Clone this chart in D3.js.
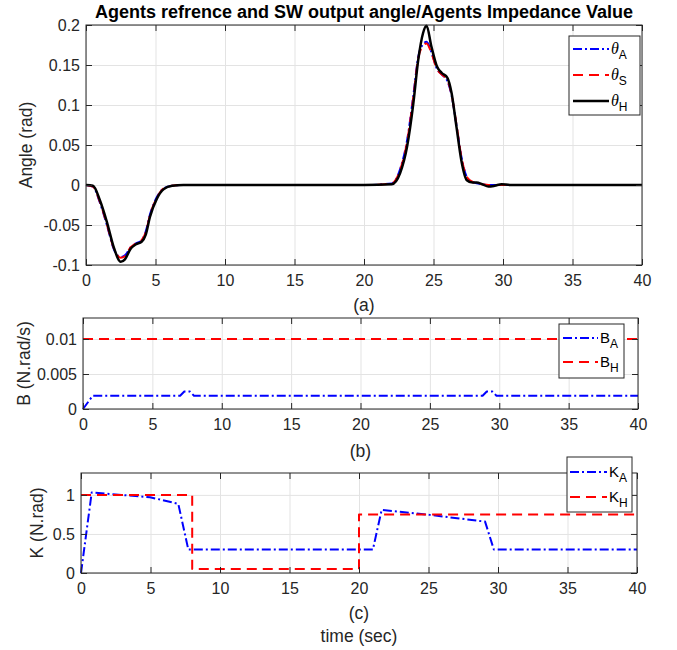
<!DOCTYPE html>
<html>
<head>
<meta charset="utf-8">
<script src="https://cdn.jsdelivr.net/npm/d3@7"></script>
<style>
  body { margin: 0; background: #fff; }
  svg { display: block; font-family: "Liberation Sans", Arial, sans-serif; }
  .tick text { fill: #262626; font-size: 16px; }
</style>
</head>
<body>
<script>
//---- data ----
var timeTheta = [0, 0.5, 1, 1.5, 2, 2.5, 2.8, 3.2, 3.6, 4, 4.3, 4.6, 5.1, 5.6, 6.2, 7, 20, 22, 22.6, 23.1, 23.55, 23.9, 24.25, 24.5, 24.85, 25.25, 25.6, 26, 26.3, 26.65, 27, 27.4, 27.8, 28.1, 28.5, 28.95, 29.4, 29.9, 30.5, 31.2, 40];
var thetaA = [0, -0.002, -0.022, -0.05, -0.08, -0.09, -0.088, -0.078, -0.073, -0.069, -0.058, -0.037, -0.015, -0.004, -0.001, 0, 0, 0.002, 0.02, 0.056, 0.112, 0.16, 0.176, 0.179, 0.166, 0.145, 0.138, 0.13, 0.112, 0.075, 0.036, 0.01, 0.004, 0.002, 0.001, 0, 0, 0, 0, 0, 0];
var thetaS = [0, -0.002, -0.021, -0.049, -0.079, -0.091, -0.089, -0.078, -0.073, -0.069, -0.059, -0.038, -0.016, -0.004, -0.001, 0, 0, 0.002, 0.019, 0.054, 0.11, 0.158, 0.174, 0.177, 0.165, 0.145, 0.138, 0.131, 0.113, 0.076, 0.036, 0.01, 0.004, 0.002, 0.001, 0, 0, 0, 0, 0, 0];
var thetaH = [0, -0.001, -0.019, -0.046, -0.078, -0.096, -0.093, -0.08, -0.074, -0.071, -0.062, -0.04, -0.017, -0.005, -0.001, 0, 0, 0.001, 0.015, 0.048, 0.102, 0.156, 0.19, 0.199, 0.173, 0.148, 0.14, 0.134, 0.115, 0.073, 0.031, 0.006, 0.003, 0.003, 0.001, -0.002, -0.001, 0.001, 0, 0, 0];

var timeBA = [0, 0.7, 7.0, 7.3, 7.7, 8.0, 28.8, 29.1, 29.5, 29.8, 40];
var valBA  = [0, 0.0019, 0.0019, 0.0025, 0.0025, 0.0019, 0.0019, 0.0025, 0.0025, 0.0019, 0.0019];
var timeBH = [0, 40];
var valBH  = [0.01, 0.01];

var timeKA = [0, 0.77, 4.96, 7.0, 7.72, 21.0, 21.63, 25.1, 29.07, 29.7, 40];
var valKA  = [0, 1.03, 0.97, 0.885, 0.3, 0.3, 0.808, 0.744, 0.658, 0.3, 0.3];
var timeKH = [0, 8, 8, 20, 20, 40];
var valKH  = [1, 1, 0.05, 0.05, 0.75, 0.75];

var xTicks = [0, 5, 10, 15, 20, 25, 30, 35, 40];
var thetaTicks = [-0.1, -0.05, 0, 0.05, 0.1, 0.15, 0.2];
var bTicks = [0, 0.005, 0.01];
var kTicks = [0, 0.5, 1];

//---- drawing ----
var width = 677, height = 650;
var axisColor = "#262626", gridColor = "#e3e3e3";
var dashDot = "9,3,2,3", dashed = "10,6";

var svg = d3.select("body").append("svg")
    .attr("width", width)
    .attr("height", height);

function zip(ts, vs){
    return ts.map(function(t, i){ return [t, vs[i]]; });
}

function makePanel(cfg){
    var x = d3.scaleLinear().domain([0, 40]).range([cfg.left, cfg.right]);
    var y = d3.scaleLinear().domain(cfg.yDomain).range([cfg.bottom, cfg.top]);
    var h = cfg.bottom - cfg.top, w = cfg.right - cfg.left;
    var g = svg.append("g");

    //grid lines
    g.append("g")
        .attr("transform", "translate(0," + cfg.bottom + ")")
        .call(d3.axisBottom(x).tickValues(xTicks).tickSize(-h).tickFormat(""))
        .call(function(s){ s.select(".domain").remove(); })
        .selectAll("line").attr("stroke", gridColor);
    g.append("g")
        .attr("transform", "translate(" + cfg.left + ",0)")
        .call(d3.axisLeft(y).tickValues(cfg.yTicks).tickSize(-w).tickFormat(""))
        .call(function(s){ s.select(".domain").remove(); })
        .selectAll("line").attr("stroke", gridColor);

    //data lines
    cfg.series.forEach(function(s){
        var line = d3.line()
            .x(function(d){ return x(d[0]); })
            .y(function(d){ return y(d[1]); })
            .curve(s.curve || d3.curveLinear);
        g.append("path")
            .datum(zip(s.t, s.v))
            .attr("d", line)
            .attr("fill", "none")
            .attr("stroke", s.color)
            .attr("stroke-width", s.width)
            .attr("stroke-dasharray", s.dash || null)
            .attr("stroke-linejoin", "round");
    });

    //axes with inward ticks
    var fmt = function(d){ return String(d); };
    var bottomAxis = g.append("g")
        .attr("transform", "translate(0," + cfg.bottom + ")")
        .call(d3.axisBottom(x).tickValues(xTicks).tickSize(-6).tickPadding(10).tickFormat(fmt));
    var leftAxis = g.append("g")
        .attr("transform", "translate(" + cfg.left + ",0)")
        .call(d3.axisLeft(y).tickValues(cfg.yTicks).tickSize(-6).tickPadding(6).tickFormat(fmt));
    var topAxis = g.append("g")
        .attr("transform", "translate(0," + cfg.top + ")")
        .call(d3.axisTop(x).tickValues(xTicks).tickSize(-6).tickFormat(""));
    var rightAxis = g.append("g")
        .attr("transform", "translate(" + cfg.right + ",0)")
        .call(d3.axisRight(y).tickValues(cfg.yTicks).tickSize(-6).tickFormat(""));
    [bottomAxis, leftAxis, topAxis, rightAxis].forEach(function(a){
        a.select(".domain").remove();
        a.selectAll("line").attr("stroke", axisColor);
    });

    //axes box
    g.append("rect")
        .attr("x", cfg.left).attr("y", cfg.top)
        .attr("width", w).attr("height", h)
        .attr("fill", "none")
        .attr("stroke", axisColor)
        .attr("stroke-width", 1);

    //y label
    g.append("text")
        .attr("transform", "translate(" + cfg.yLabelX + "," + (cfg.top + h / 2) + ") rotate(-90)")
        .attr("text-anchor", "middle")
        .attr("fill", axisColor)
        .style("font-size", "17.5px")
        .text(cfg.yLabel);

    //x label "(a)" etc
    g.append("text")
        .attr("x", cfg.left + w / 2)
        .attr("y", cfg.subY)
        .attr("text-anchor", "middle")
        .attr("fill", axisColor)
        .style("font-size", "17.5px")
        .text(cfg.sub);

    //legend
    var L = cfg.legend;
    var lg = g.append("g");
    lg.append("rect")
        .attr("x", L.x).attr("y", L.y)
        .attr("width", L.w).attr("height", L.h)
        .attr("fill", "#fff")
        .attr("stroke", axisColor)
        .attr("stroke-width", 1);
    cfg.series.forEach(function(s, i){
        var yy = L.rows[i];
        lg.append("line")
            .attr("x1", L.x1).attr("x2", L.x2)
            .attr("y1", yy).attr("y2", yy)
            .attr("stroke", s.color)
            .attr("stroke-width", s.width)
            .attr("stroke-dasharray", s.dash || null);
        var t = lg.append("text")
            .attr("x", L.x2 + 2)
            .attr("y", yy + 5)
            .attr("fill", "#000");
        t.append("tspan")
            .style("font-size", s.italic ? "16px" : "15px")
            .style("font-style", s.italic ? "italic" : "normal")
            .style("font-family", s.italic ? "'Liberation Serif', serif" : null)
            .text(s.name);
        t.append("tspan")
            .attr("dy", 5)
            .style("font-size", "12px")
            .text(s.subscript);
    });
}

//panel (a)
makePanel({
    left: 86, right: 642, top: 25, bottom: 265,
    yDomain: [-0.1, 0.2], yTicks: thetaTicks,
    yLabel: "Angle (rad)", yLabelX: 32,
    sub: "(a)", subY: 311,
    series: [
        {t: timeTheta, v: thetaA, color: "#0000ff", width: 2, dash: dashDot, name: "\u03b8", subscript: "A", italic: true, curve: d3.curveMonotoneX},
        {t: timeTheta, v: thetaS, color: "#ff0000", width: 2, dash: dashed, name: "\u03b8", subscript: "S", italic: true, curve: d3.curveMonotoneX},
        {t: timeTheta, v: thetaH, color: "#000000", width: 2.5, dash: null, name: "\u03b8", subscript: "H", italic: true, curve: d3.curveMonotoneX}
    ],
    legend: {x: 569, y: 36, w: 71, h: 79, x1: 573, x2: 609, rows: [49, 75, 101]}
});

//panel (b)
makePanel({
    left: 83, right: 638, top: 318, bottom: 409,
    yDomain: [0, 0.013], yTicks: bTicks,
    yLabel: "B (N.rad/s)", yLabelX: 30,
    sub: "(b)", subY: 457,
    series: [
        {t: timeBA, v: valBA, color: "#0000ff", width: 2, dash: dashDot, name: "B", subscript: "A"},
        {t: timeBH, v: valBH, color: "#ff0000", width: 2, dash: dashed, name: "B", subscript: "H"}
    ],
    legend: {x: 559, y: 324, w: 65, h: 54, x1: 563, x2: 598, rows: [338, 362]}
});

//panel (c)
makePanel({
    left: 81, right: 637, top: 473, bottom: 573,
    yDomain: [0, 1.28], yTicks: kTicks,
    yLabel: "K (N.rad)", yLabelX: 43,
    sub: "(c)", subY: 619,
    series: [
        {t: timeKA, v: valKA, color: "#0000ff", width: 2, dash: dashDot, name: "K", subscript: "A"},
        {t: timeKH, v: valKH, color: "#ff0000", width: 2, dash: dashed, name: "K", subscript: "H"}
    ],
    legend: {x: 567, y: 457, w: 65, h: 55, x1: 570, x2: 607, rows: [472, 497]}
});

//x axis title
svg.append("text")
    .attr("x", 359).attr("y", 642)
    .attr("text-anchor", "middle")
    .attr("fill", axisColor)
    .style("font-size", "17.5px")
    .text("time (sec)");

//figure title
svg.append("text")
    .attr("x", 364).attr("y", 18)
    .attr("text-anchor", "middle")
    .attr("fill", "#000")
    .style("font-size", "18px")
    .style("font-weight", "bold")
    .text("Agents refrence and SW output angle/Agents Impedance Value");
</script>
</body>
</html>
